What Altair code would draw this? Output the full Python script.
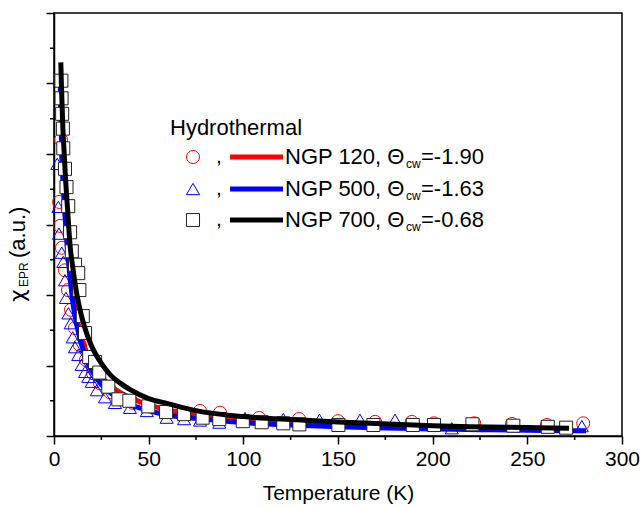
import altair as alt
import pandas as pd

FONT = "Liberation Sans"

# ---------------- data ----------------
# NGP 120 (red circles)
t_ngp120 = [3.7, 2.7, 3.2, 4.2, 5.8, 7.4, 9.0, 11.1, 13.7, 16.9, 20.6, 24.3, 29.6, 34.9, 41.7,
            55.0, 64.4, 77.1, 87.7, 108.3, 129.4, 150.0, 169.6, 189.0, 200.7, 221.9, 241.9, 260.4, 279.5]
chi_ngp120 = [4.20, 3.32, 2.98, 2.67, 2.35, 2.07, 1.79, 1.53, 1.29, 1.08, 0.89, 0.75, 0.62, 0.54, 0.47,
              0.40, 0.34, 0.355, 0.33, 0.255, 0.24, 0.21, 0.20, 0.20, 0.18, 0.18, 0.17, 0.156, 0.18]
# NGP 500 (blue triangles)
t_ngp500 = [1.7, 2.3, 2.6, 4.1, 4.9, 5.8, 6.3, 7.6, 8.8, 9.9, 11.1, 12.8, 14.6, 16.4, 18.1, 19.9,
            22.6, 26.9, 32.2, 40.1, 49.0, 59.5, 68.7, 77.1, 87.3, 100.9, 121.1, 140.2, 161.6, 180.1,
            210.1, 261.1, 278.8]
chi_ngp500 = [3.86, 3.25, 2.87, 2.60, 2.47, 2.21, 1.96, 1.74, 1.60, 1.40, 1.26, 1.15, 1.01, 0.91, 0.84,
              0.77, 0.65, 0.55, 0.47, 0.40, 0.355, 0.26, 0.24, 0.22, 0.19, 0.255, 0.24, 0.23, 0.23, 0.23,
              0.11, 0.13, 0.14]
# NGP 700 (black squares)
t_ngp700 = [3.9, 4.0, 4.3, 4.7, 4.9, 5.8, 6.6, 7.5, 8.5, 9.4, 11.1, 12.8, 13.4, 15.2, 16.4, 18.6,
            21.7, 23.9, 28.7, 34.0, 39.8, 49.8, 59.2, 68.7, 78.5, 87.3, 99.7, 109.7, 121.1, 129.6,
            150.2, 168.7, 189.5, 200.7, 221.0, 242.6, 260.8, 270.5]
chi_ngp700 = [5.04, 4.79, 4.57, 4.36, 4.08, 3.79, 3.53, 3.26, 2.89, 2.62, 2.43, 2.31, 2.07, 1.70, 1.46,
              1.12, 1.05, 0.90, 0.70, 0.52, 0.50, 0.42, 0.34, 0.31, 0.26, 0.24, 0.21, 0.195, 0.18, 0.165,
              0.156, 0.156, 0.156, 0.156, 0.166, 0.146, 0.13, 0.118]

# Curie-Weiss fit curves
fit_t_ngp120 = [3.4, 4.0, 5.0, 6.0, 7.0, 8.0, 10, 12, 14, 17, 20, 25, 30, 36, 45, 57, 72, 93,
                125, 150, 200, 250, 270]
fit_chi_ngp120 = [4.9, 4.3, 3.6, 3.1, 2.72, 2.42, 1.98, 1.66, 1.44, 1.2, 1.03, 0.84, 0.71, 0.6, 0.49,
                  0.39, 0.31, 0.25, 0.19, 0.165, 0.13, 0.11, 0.10]
fit_t_ngp500 = [3.3, 3.7, 4.1, 5, 6, 7, 7.6, 9, 10.2, 12, 13.7, 16, 19, 22, 26, 30, 33, 40, 44, 50,
                56, 65, 75, 100, 125, 150, 175, 200, 225, 250, 281]
fit_chi_ngp500 = [5.0, 4.5, 4.0, 3.5, 3.05, 2.7, 2.5, 2.12, 1.85, 1.58, 1.38, 1.17, 0.97, 0.84, 0.70,
                  0.61, 0.55, 0.44, 0.41, 0.36, 0.32, 0.28, 0.25, 0.19, 0.155, 0.13, 0.115, 0.10, 0.09,
                  0.08, 0.075]
fit_t_ngp700 = [3.6, 3.9, 4.2, 4.7, 5.3, 6.2, 7.2, 8.5, 10, 12, 14, 16, 18, 21, 25, 30, 35, 40, 50,
                60, 75, 100, 128, 150, 167, 200, 220, 250, 272]
fit_chi_ngp700 = [5.30, 5.0, 4.75, 4.35, 4.05, 3.6, 3.2, 2.7, 2.38, 2.02, 1.76, 1.56, 1.40, 1.21, 1.03,
                  0.86, 0.75, 0.66, 0.53, 0.46, 0.36, 0.275, 0.23, 0.20, 0.18, 0.145, 0.13, 0.12, 0.11]

x_major = [0, 50, 100, 150, 200, 250, 300]
x_minor = [25, 75, 125, 175, 225, 275]
y_major = [0, 1, 2, 3, 4, 5, 6]
y_minor = [0.5, 1.5, 2.5, 3.5, 4.5, 5.5]

legend_title = "Hydrothermal"
legend_names = ["NGP 120, Θ", "NGP 500, Θ", "NGP 700, Θ"]
legend_values = ["=-1.90", "=-1.63", "=-0.68"]
x_title = "Temperature (K)"

# ---------------- chart ----------------
W, H = 568, 423
xscale = alt.Scale(domain=[0, 300], nice=False, zero=False)
yscale = alt.Scale(domain=[0, 6], nice=False, zero=False)

xaxis = alt.Axis(values=x_major, format="d", labelFont=FONT, labelFontSize=21, labelColor="black",
                 labelFlush=False, labelPadding=4, tickSize=8, tickWidth=1.5, tickColor="black",
                 domainColor="black", domainWidth=1.5, grid=False,
                 title=x_title, titleFont=FONT, titleFontSize=21, titleFontWeight="normal",
                 titleColor="black", titlePadding=13)
yaxis = alt.Axis(values=y_major, labels=False, tickSize=8, tickWidth=1.5, tickColor="black",
                 domainColor="black", domainWidth=1.5, grid=False, title="")


def X(f):
    return alt.X(f, type="quantitative", scale=xscale, axis=xaxis)


def Y(f):
    return alt.Y(f, type="quantitative", scale=yscale, axis=yaxis)


def pts(t, c, shape, color, fill, size):
    df = pd.DataFrame({"T": t, "chi": c})
    return alt.Chart(df).mark_point(shape=shape, size=size, stroke=color, strokeWidth=1,
                                    filled=fill is not None, fill=fill if fill else "none",
                                    opacity=1).encode(x=X("T"), y=Y("chi"))


def fit(t, c, color):
    df = pd.DataFrame({"T": t, "chi": c})
    return alt.Chart(df).mark_line(color=color, strokeWidth=5, interpolate="monotone").encode(
        x=X("T"), y=Y("chi"))


one = pd.DataFrame({"a": [0]})


def txt(s, px, py, size=20, align="left", baseline="middle", angle=0, font=FONT):
    kw = dict(text=s, font=font, fontSize=size, align=align, baseline=baseline, color="black")
    if angle:
        kw["angle"] = angle
    return alt.Chart(one).mark_text(**kw).encode(x=alt.value(px - 54), y=alt.value(py - 13))


layers = []
# minor ticks
layers.append(alt.Chart(pd.DataFrame({"v": x_minor})).mark_rule(color="black", strokeWidth=1.5)
              .encode(x=X("v"), y=alt.value(H), y2=alt.value(H + 4)))
layers.append(alt.Chart(pd.DataFrame({"v": y_minor})).mark_rule(color="black", strokeWidth=1.5)
              .encode(y=Y("v"), x=alt.value(-4), x2=alt.value(0)))
# data + fits
layers.append(pts(t_ngp120, chi_ngp120, "circle", "#ff0000", None, 170))
layers.append(fit(fit_t_ngp120, fit_chi_ngp120, "#ff0000"))
layers.append(pts(t_ngp500, chi_ngp500, "triangle-up", "#0000ff", None, 170))
layers.append(fit(fit_t_ngp500, fit_chi_ngp500, "#0000ff"))
layers.append(pts(t_ngp700, chi_ngp700, "square", "#222222", "white", 170))
layers.append(fit(fit_t_ngp700, fit_chi_ngp700, "black"))

# y-axis title chi_EPR (a.u.)
layers.append(txt("χ", 25, 302, size=22, baseline="alphabetic", angle=270, font="DejaVu Sans"))
layers.append(txt("EPR", 28, 287, size=12, baseline="alphabetic", angle=270))
layers.append(txt("(a.u.)", 25, 258, size=22, baseline="alphabetic", angle=270))

# legend
layers.append(txt(legend_title, 170, 128, size=22))
rows_y = [157, 189, 220]
sym = [("circle", "#ff0000"), ("triangle-up", "#0000ff"), ("square", "#222222")]
line_cols = ["#ff0000", "#0000ff", "black"]
for i, ry in enumerate(rows_y):
    shp, col = sym[i]
    layers.append(alt.Chart(one).mark_point(shape=shp, size=170, stroke=col, strokeWidth=1,
                                            fill="none", opacity=1)
                  .encode(x=alt.value(193 - 54), y=alt.value(ry - 13)))
    layers.append(txt(",", 216, ry, size=21))
    layers.append(alt.Chart(one).mark_rule(color=line_cols[i], strokeWidth=5)
                  .encode(x=alt.value(230 - 54), x2=alt.value(283 - 54), y=alt.value(ry - 13)))
    layers.append(txt(legend_names[i], 285, ry, size=22))
    layers.append(txt("cw", 406, ry + 7, size=12))
    layers.append(txt(legend_values[i], 421, ry, size=22))

chart = alt.layer(*layers).properties(
    width=W, height=H, autosize="none",
    padding={"left": 54, "top": 13, "right": 18, "bottom": 72},
).configure_view(stroke="black", strokeWidth=1.5)

chart.save("out.html", embed_options={"renderer": "svg", "actions": False})
